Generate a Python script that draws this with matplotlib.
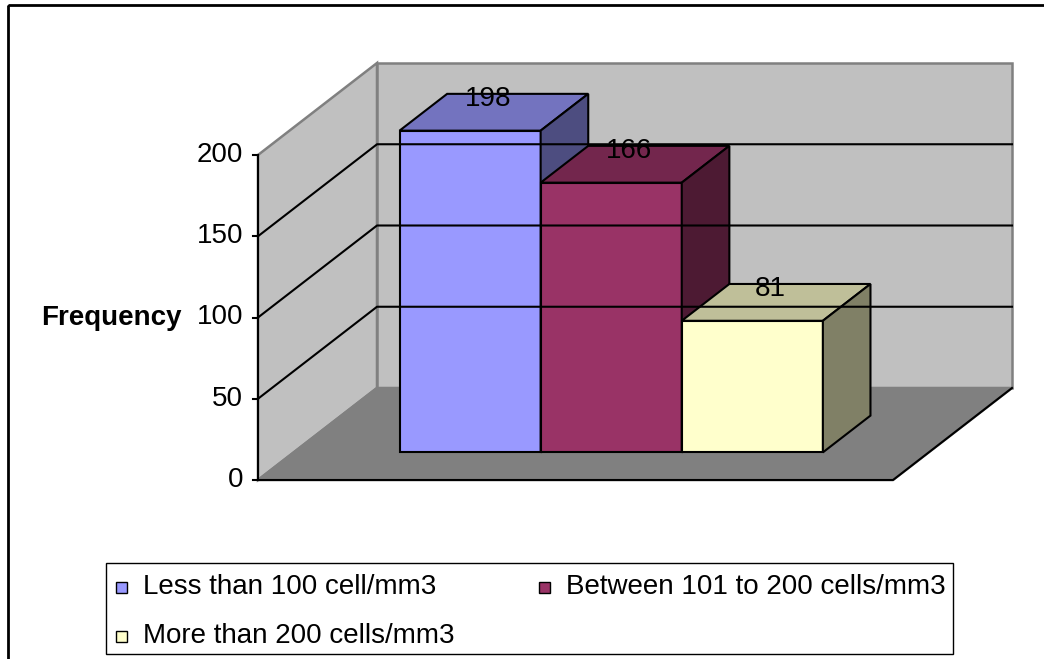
import matplotlib.pyplot as plt
from matplotlib.patches import Polygon, Rectangle

plt.rcParams['font.family'] = ['Liberation Sans', 'DejaVu Sans']

# data
series = ["Less than 100 cell/mm3", "Between 101 to 200 cells/mm3", "More than 200 cells/mm3"]
values = [198, 166, 81]
front_colors = ["#9999FF", "#993366", "#FFFFCC"]
top_colors = ["#7373BF", "#73264D", "#BFBF99"]
side_colors = ["#4D4D80", "#4D1A33", "#808066"]
yticks = [0, 50, 100, 150, 200]
ylabel = "Frequency"

W, H = 1044, 659
fig = plt.figure(figsize=(W / 100, H / 100), dpi=100)

# layer in pixels for frame, legend, axis title
lay = fig.add_axes([0, 0, 1, 1])
lay.set_xlim(0, W)
lay.set_ylim(H, 0)
lay.axis('off')

# chart layer: x = position along the category axis (0..1), y = frequency
ax = fig.add_axes([0, 0, 1, 1])
ax.patch.set_alpha(0)
sx = 635          # px per category-axis unit
sy = 325 / 200    # px per frequency unit
ax.set_xlim(-258 / sx, (W - 258) / sx)
ax.set_ylim(-(H - 480) / sy, 480 / sy)
ax.axis('off')

ymax = yticks[-1]
dx, dy = 119 / sx, 92 / sy   # full depth offset of the 3d box


def P(x, v, z):
    # project (x, value, depth) onto the front plane
    return (x + z * dx, v + z * dy)


# walls and floor
wall = dict(facecolor="#C0C0C0", edgecolor="#808080", lw=1.8, joinstyle='miter')
ax.add_patch(Polygon([P(0, 0, 0), P(0, 0, 1), P(0, ymax, 1), P(0, ymax, 0)], **wall))
ax.add_patch(Polygon([P(0, 0, 1), P(1, 0, 1), P(1, ymax, 1), P(0, ymax, 1)], **wall))
ax.add_patch(Polygon([P(0, 0, 0), P(1, 0, 0), P(1, 0, 1), P(0, 0, 1)],
                     facecolor="#808080", edgecolor="#808080", lw=1.8))
ax.plot(*zip(P(0, 0, 0), P(1, 0, 0), P(1, 0, 1)), color='black', lw=1.5)

# gridlines on side and back wall
for v in yticks[1:-1]:
    ax.plot(*zip(P(0, v, 0), P(0, v, 1), P(1, v, 1)), color='black', lw=1.5)

# value axis
ax.plot(*zip(P(0, 0, 0), P(0, ymax, 0)), color='black', lw=1.5)
tick = 5 / sx
for v in yticks:
    ax.plot([-tick, 0], [v, v], color='black', lw=1.5)
    ax.annotate(str(v), (0, v), xytext=(-15, 0), textcoords='offset pixels',
                ha='right', va='center', fontsize=20)

# bars, gap width 50%, depth from 0.3 to 0.7
gap = 0.5
bw = 1 / (1 + gap) / len(values)
x0 = (1 - bw * len(values)) / 2
z0, z1 = 0.3, 0.7
for i, v in enumerate(values):
    xl = x0 + i * bw
    xr = xl + bw
    front = [P(xl, 0, z0), P(xr, 0, z0), P(xr, v, z0), P(xl, v, z0)]
    top = [P(xl, v, z0), P(xr, v, z0), P(xr, v, z1), P(xl, v, z1)]
    side = [P(xr, 0, z0), P(xr, 0, z1), P(xr, v, z1), P(xr, v, z0)]
    for poly, c in [(front, front_colors[i]), (top, top_colors[i]), (side, side_colors[i])]:
        ax.add_patch(Polygon(poly, facecolor=c, edgecolor='black', lw=1.5, joinstyle='miter'))
    ax.annotate(str(v), P((xl + xr) / 2, v, 0.45), xytext=(0, 18), textcoords='offset pixels',
                ha='center', va='center', fontsize=20)

lay.text(111, 318, ylabel, fontsize=20, fontweight='bold', ha='center', va='center')

# legend
lay.add_patch(Rectangle((106, 563), 847, 91, facecolor='white', edgecolor='black', lw=1))
legend_pos = [(116, 587), (539, 587), (116, 636)]
for (lx, ly), name, c in zip(legend_pos, series, front_colors):
    lay.add_patch(Rectangle((lx, ly - 5.5), 11, 11, facecolor=c, edgecolor='black', lw=1))
    lay.text(lx + 27, ly, name, fontsize=20, ha='left', va='center')

# outer frame
lay.add_patch(Rectangle((8, 5), 1100, 700, fill=False, edgecolor='black', lw=2, clip_on=False))

fig.savefig("out.png", dpi=100)
